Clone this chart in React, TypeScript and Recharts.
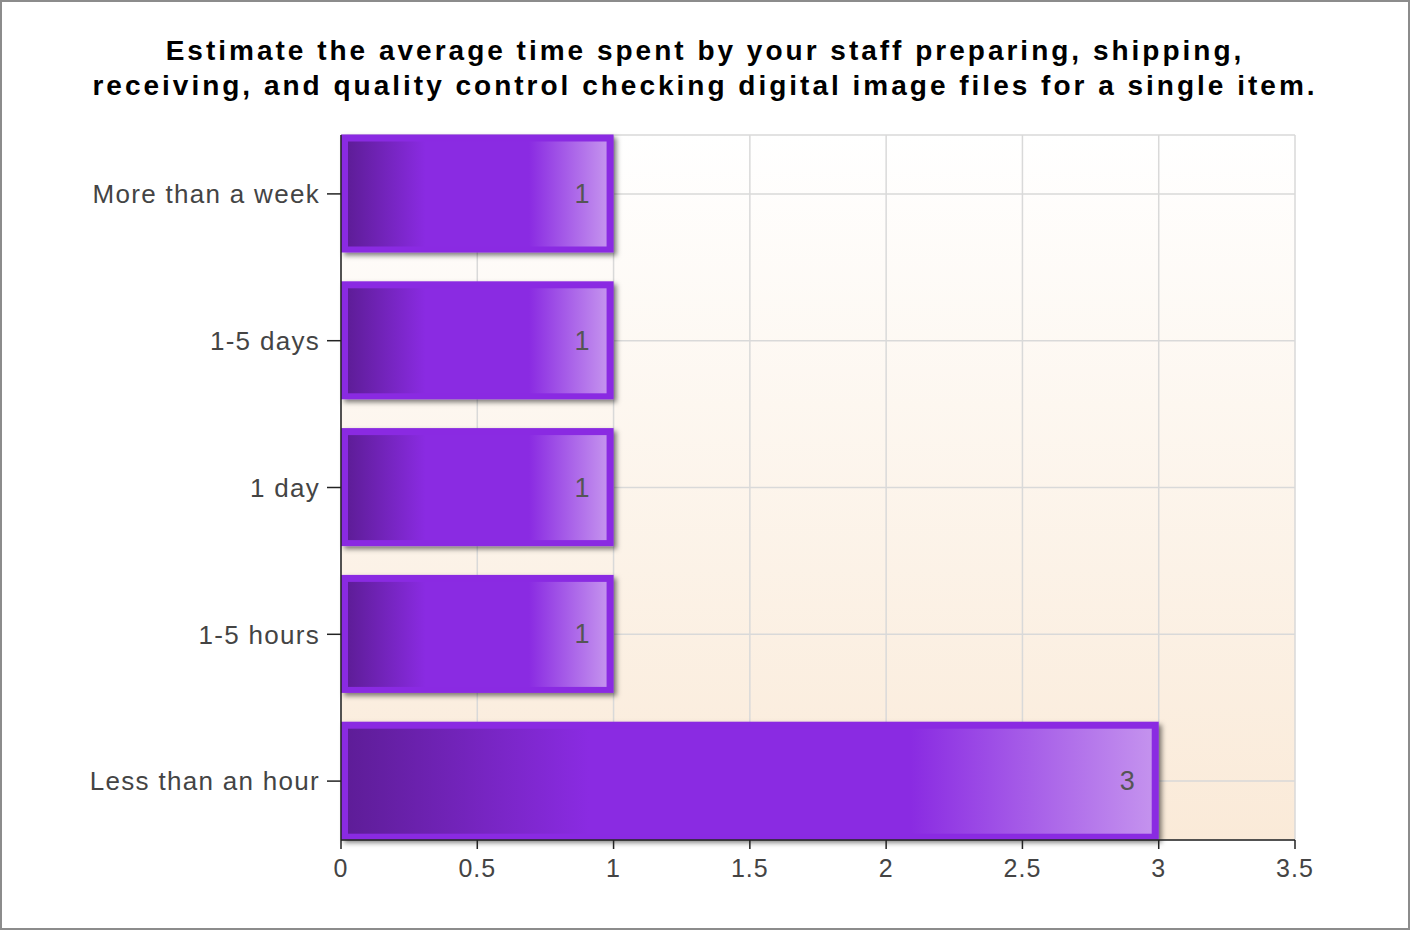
import { BarChart, Bar, XAxis, YAxis, CartesianGrid, LabelList } from "recharts";

// answers, top to bottom as shown
const categories = ["More than a week", "1-5 days", "1 day", "1-5 hours", "Less than an hour"];
const counts = [1, 1, 1, 1, 3];
const xTicks = [0, 0.5, 1, 1.5, 2, 2.5, 3, 3.5];

const titleLines = [
  "Estimate the average time spent by your staff preparing, shipping,",
  "receiving, and quality control checking digital image files for a single item.",
];

const data = categories.map((name, i) => ({ name, count: counts[i] }));

const FONT = '"Liberation Sans", Arial, sans-serif';

// bar drawn as a purple frame with a gradient panel inside
function FancyBar(props: any) {
  const { x, y, width, height } = props;
  if (!width || !height) return null;
  const inset = 7;
  return (
    <g>
      <rect x={x} y={y} width={width} height={height} fill="#8a2be2" filter="url(#barShadow)" />
      <rect
        x={x + inset}
        y={y + inset}
        width={Math.max(0, width - inset * 2)}
        height={Math.max(0, height - inset * 2 + 1)}
        fill="url(#barGrad)"
      />
    </g>
  );
}

export default function App() {
  return (
    <div style={{ position: "relative", width: 1410, height: 930, background: "#fff" }}>
      <style>{"body{margin:0}"}</style>
      <svg width={0} height={0} style={{ position: "absolute" }}>
        <defs>
          <linearGradient id="barGrad" x1="0" y1="0" x2="1" y2="0">
            <stop offset="0%" stopColor="#5e1d98" />
            <stop offset="30%" stopColor="#8a2be2" />
            <stop offset="70%" stopColor="#8a2be2" />
            <stop offset="100%" stopColor="#c492ee" />
          </linearGradient>
          <linearGradient id="bgGrad" x1="0" y1="0" x2="0" y2="1">
            <stop offset="0%" stopColor="#ffffff" />
            <stop offset="100%" stopColor="#faead8" />
          </linearGradient>
          <filter id="barShadow" x="-5%" y="-10%" width="115%" height="130%">
            <feDropShadow dx="3" dy="3" stdDeviation="2.5" floodColor="#000" floodOpacity="0.5" />
          </filter>
        </defs>
      </svg>
      <div
        style={{
          position: "absolute",
          top: 33,
          left: 0,
          width: 1410,
          textAlign: "center",
          fontFamily: FONT,
          fontWeight: "bold",
          fontSize: 28,
          letterSpacing: 3,
          lineHeight: "35px",
          color: "#000",
        }}
      >
        {titleLines.map((t) => (
          <div key={t}>{t}</div>
        ))}
      </div>
      <BarChart
        width={1410}
        height={930}
        data={data}
        layout="vertical"
        margin={{ top: 135, right: 115, bottom: 50, left: 11 }}
        style={{ position: "absolute", top: 0, left: 0 }}
      >
        <CartesianGrid stroke="#d9d9d9" strokeWidth={1.5} fill="url(#bgGrad)" fillOpacity={1} />
        <XAxis
          type="number"
          domain={[0, 3.5]}
          ticks={xTicks}
          height={40}
          stroke="#222"
          strokeWidth={1.5}
          tickSize={9}
          tickMargin={10}
          tick={{ fill: "#444", fontSize: 25, fontFamily: FONT, letterSpacing: 1 }}
        />
        <YAxis
          type="category"
          dataKey="name"
          width={330}
          padding={{ top: -14.5, bottom: -14.5 }}
          stroke="#222"
          strokeWidth={1.5}
          tickSize={14}
          tickMargin={7}
          tick={{ fill: "#444", fontSize: 26, fontFamily: FONT, letterSpacing: 1.3 }}
        />
        <Bar dataKey="count" barSize={118} shape={<FancyBar />} isAnimationActive={false}>
          <LabelList
            dataKey="count"
            position="insideRight"
            offset={24}
            style={{ fill: "#555", fontSize: 27, fontFamily: FONT }}
          />
        </Bar>
      </BarChart>
      <div
        style={{
          position: "absolute",
          inset: 0,
          border: "2px solid #8c8c8c",
          pointerEvents: "none",
        }}
      />
    </div>
  );
}
